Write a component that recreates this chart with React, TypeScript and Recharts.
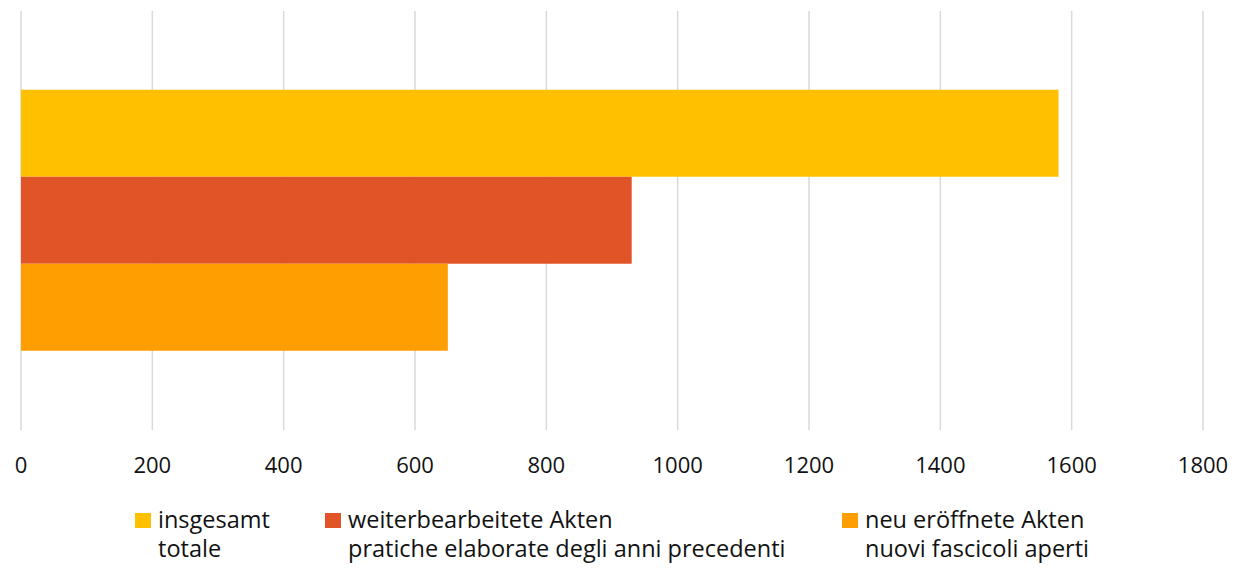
import {FC} from 'react';
import {Bar, BarChart, CartesianGrid, Legend, XAxis, YAxis} from 'recharts';

const categories = ['Akten'];
const seriesKeys = ['insgesamt', 'weiter', 'neu'];
const seriesValues = [1580, 930, 650];
const seriesLabelsDe = ['insgesamt', 'weiterbearbeitete Akten', 'neu eröffnete Akten'];
const seriesLabelsIt = ['totale', 'pratiche elaborate degli anni precedenti', 'nuovi fascicoli aperti'];
const xTicks = [0, 200, 400, 600, 800, 1000, 1200, 1400, 1600, 1800];

const COLORS = ['#FFC000', '#E15427', '#FF9E00'];
const FONT = '"Open Sans", "Noto Sans", sans-serif';

const data = categories.map((name) => {
    const row: Record<string, string | number> = {name};
    seriesKeys.forEach((key, i) => {
        row[key] = seriesValues[i];
    });
    return row;
});

const itemWidths = [190, 517, 380];

const LegendContent: FC = () => (
    <div style={{display: 'flex', paddingLeft: 127, height: 78, fontFamily: FONT, fontSize: 23.5, color: '#111'}}>
        {seriesKeys.map((key, i) => (
            <div key={key} style={{display: 'flex', width: itemWidths[i], alignItems: 'flex-start'}}>
                <div style={{width: 16, height: 15, background: COLORS[i], marginTop: 22, marginRight: 7, flexShrink: 0}}/>
                <div style={{lineHeight: '29px', paddingTop: 14, whiteSpace: 'nowrap'}}>
                    <div>{seriesLabelsDe[i]}</div>
                    <div>{seriesLabelsIt[i]}</div>
                </div>
            </div>
        ))}
    </div>
);

const App: FC = () => {
    return (
        <BarChart
            width={1233}
            height={561}
            data={data}
            layout="vertical"
            margin={{top: 3, right: 38, left: 13, bottom: 0}}
            barCategoryGap="18.8%"
            barGap={0}
        >
            <CartesianGrid horizontal={false} stroke="#D9D9D9" strokeWidth={1.5}/>
            <XAxis
                type="number"
                domain={[0, 1800]}
                ticks={xTicks}
                axisLine={false}
                tickLine={false}
                tickMargin={21}
                height={61}
                interval={0}
                tick={{fill: '#111', fontSize: 22, fontFamily: FONT}}
            />
            <YAxis type="category" dataKey="name" hide/>
            {seriesKeys.map((key, i) => (
                <Bar key={key} dataKey={key} fill={COLORS[i]} isAnimationActive={false}/>
            ))}
            <Legend
                verticalAlign="bottom"
                content={<LegendContent/>}
                wrapperStyle={{left: 0, width: 1233}}
            />
        </BarChart>
    );
};

export default App;
